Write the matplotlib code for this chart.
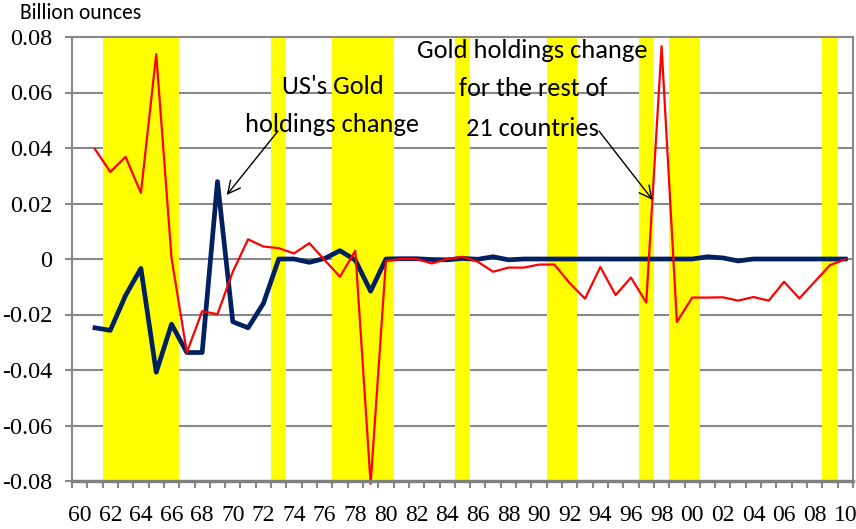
import matplotlib
matplotlib.use("Agg")
import matplotlib.pyplot as plt
from matplotlib.ticker import FixedLocator

# ---- data ----
years = list(range(1961, 2011))
us_change = [-0.0248, -0.0257, -0.0131, -0.0034, -0.0408, -0.0235, -0.0337, -0.0337, 0.0279, -0.0226,
             -0.0248, -0.0160, 0.0000, 0.0000, -0.0012, 0.0002, 0.0030, -0.0004, -0.0116, 0.0000,
             0.0001, 0.0001, -0.0002, -0.0003, 0.0002, -0.0001, 0.0008, -0.0003, 0.0000, 0.0000,
             0.0000, 0.0000, 0.0000, 0.0000, 0.0000, 0.0000, 0.0000, 0.0000, 0.0000, 0.0000,
             0.0008, 0.0004, -0.0007, 0.0000, 0.0000, 0.0000, 0.0000, 0.0000, 0.0000, 0.0000]
rest_change = [0.0396, 0.0314, 0.0368, 0.0238, 0.0738, 0.0003, -0.0337, -0.0188, -0.0199, -0.0046,
               0.0071, 0.0045, 0.0039, 0.0020, 0.0057, -0.0004, -0.0064, 0.0030, -0.0810, -0.0007,
               0.0000, 0.0000, -0.0016, 0.0000, 0.0008, -0.0010, -0.0046, -0.0031, -0.0031, -0.0020,
               -0.0020, -0.0087, -0.0143, -0.0029, -0.0130, -0.0067, -0.0157, 0.0767, -0.0227, -0.0139,
               -0.0139, -0.0138, -0.0150, -0.0137, -0.0150, -0.0082, -0.0142, -0.0082, -0.0022, -0.0001]
recession_years = [1962, 1963, 1964, 1965, 1966, 1973, 1977, 1978, 1979, 1980,
                   1985, 1991, 1992, 1997, 1999, 2000, 2009]
label_years = list(range(1960, 2011, 2))
x_labels = ["%02d" % (y % 100) for y in label_years]
y_ticks = [-0.08, -0.06, -0.04, -0.02, 0.0, 0.02, 0.04, 0.06, 0.08]
y_labels = ["-0.08", "-0.06", "-0.04", "-0.02", "0", "0.02", "0.04", "0.06", "0.08"]

SERIF = "Liberation Serif"
SANS = ["Carlito", "Lato", "DejaVu Sans"]

W, H = 856, 529
fig = plt.figure(figsize=(W / 100, H / 100), dpi=100)
ax = fig.add_axes([72 / W, 1 - 481 / H, (853 - 72) / W, (481 - 37) / H])

GRAY = "#888888"

ax.bar(recession_years, [0.16] * len(recession_years), bottom=-0.08, width=1.0,
       color="#FFFF00", zorder=1, linewidth=0)
ax.plot(years, us_change, color="#002060", lw=3.4, zorder=3, clip_on=False,
        solid_joinstyle="round")
ax.plot(years, rest_change, color="#FF0000", lw=1.6, zorder=4, clip_on=False)

ax.set_xlim(1959.5, 2010.5)
ax.set_ylim(-0.08, 0.08)

ax.yaxis.set_major_locator(FixedLocator(y_ticks))
ax.yaxis.set_ticklabels(y_labels)
ax.yaxis.grid(True, color=GRAY, lw=1.5, zorder=0)
ax.set_axisbelow(True)
ax.tick_params(axis="y", direction="out", length=5, width=1.5, color=GRAY, pad=9,
               labelsize=17.5, labelfontfamily=SERIF)

ax.xaxis.set_major_locator(FixedLocator(label_years))
ax.xaxis.set_ticklabels(x_labels)
ax.xaxis.set_minor_locator(FixedLocator([y - 0.5 for y in range(1960, 2012)]))
ax.tick_params(axis="x", which="major", length=0, pad=17, labelsize=17,
               labelfontfamily=SERIF)
ax.tick_params(axis="x", which="minor", direction="out", length=5, width=1.5, color=GRAY)

for s in ["left", "top", "right"]:
    ax.spines[s].set_color(GRAY)
    ax.spines[s].set_linewidth(1.5)
ax.spines["bottom"].set_color("#808080")
ax.spines["bottom"].set_linewidth(2.4)
ax.spines["bottom"].set_zorder(5)

# text
fig.text(20 / W, 1 - 13 / H, "Billion ounces", family=SANS, fontsize=15.5,
         ha="left", va="center")

fs = 19
fig.text(333 / W, 1 - 86 / H, "US's Gold", family=SANS, fontsize=fs, ha="center", va="center")
fig.text(332 / W, 1 - 124 / H, "holdings change", family=SANS, fontsize=fs, ha="center", va="center")

fig.text(532 / W, 1 - 51 / H, "Gold holdings change", family=SANS, fontsize=fs, ha="center", va="center")
fig.text(533 / W, 1 - 89 / H, "for the rest of", family=SANS, fontsize=fs, ha="center", va="center")
fig.text(532 / W, 1 - 129 / H, "21 countries", family=SANS, fontsize=fs, ha="center", va="center")

arrow = dict(arrowstyle="->,head_length=0.9,head_width=0.45", color="black", lw=1.0,
             shrinkA=0, shrinkB=0)
ax.annotate("", xy=(226.7, H - 195), xycoords="figure pixels",
            xytext=(278, H - 131), textcoords="figure pixels", arrowprops=arrow, zorder=6)
ax.annotate("", xy=(652.7, H - 200), xycoords="figure pixels",
            xytext=(599, H - 131), textcoords="figure pixels", arrowprops=arrow, zorder=6)

fig.savefig("out.png", dpi=100)
